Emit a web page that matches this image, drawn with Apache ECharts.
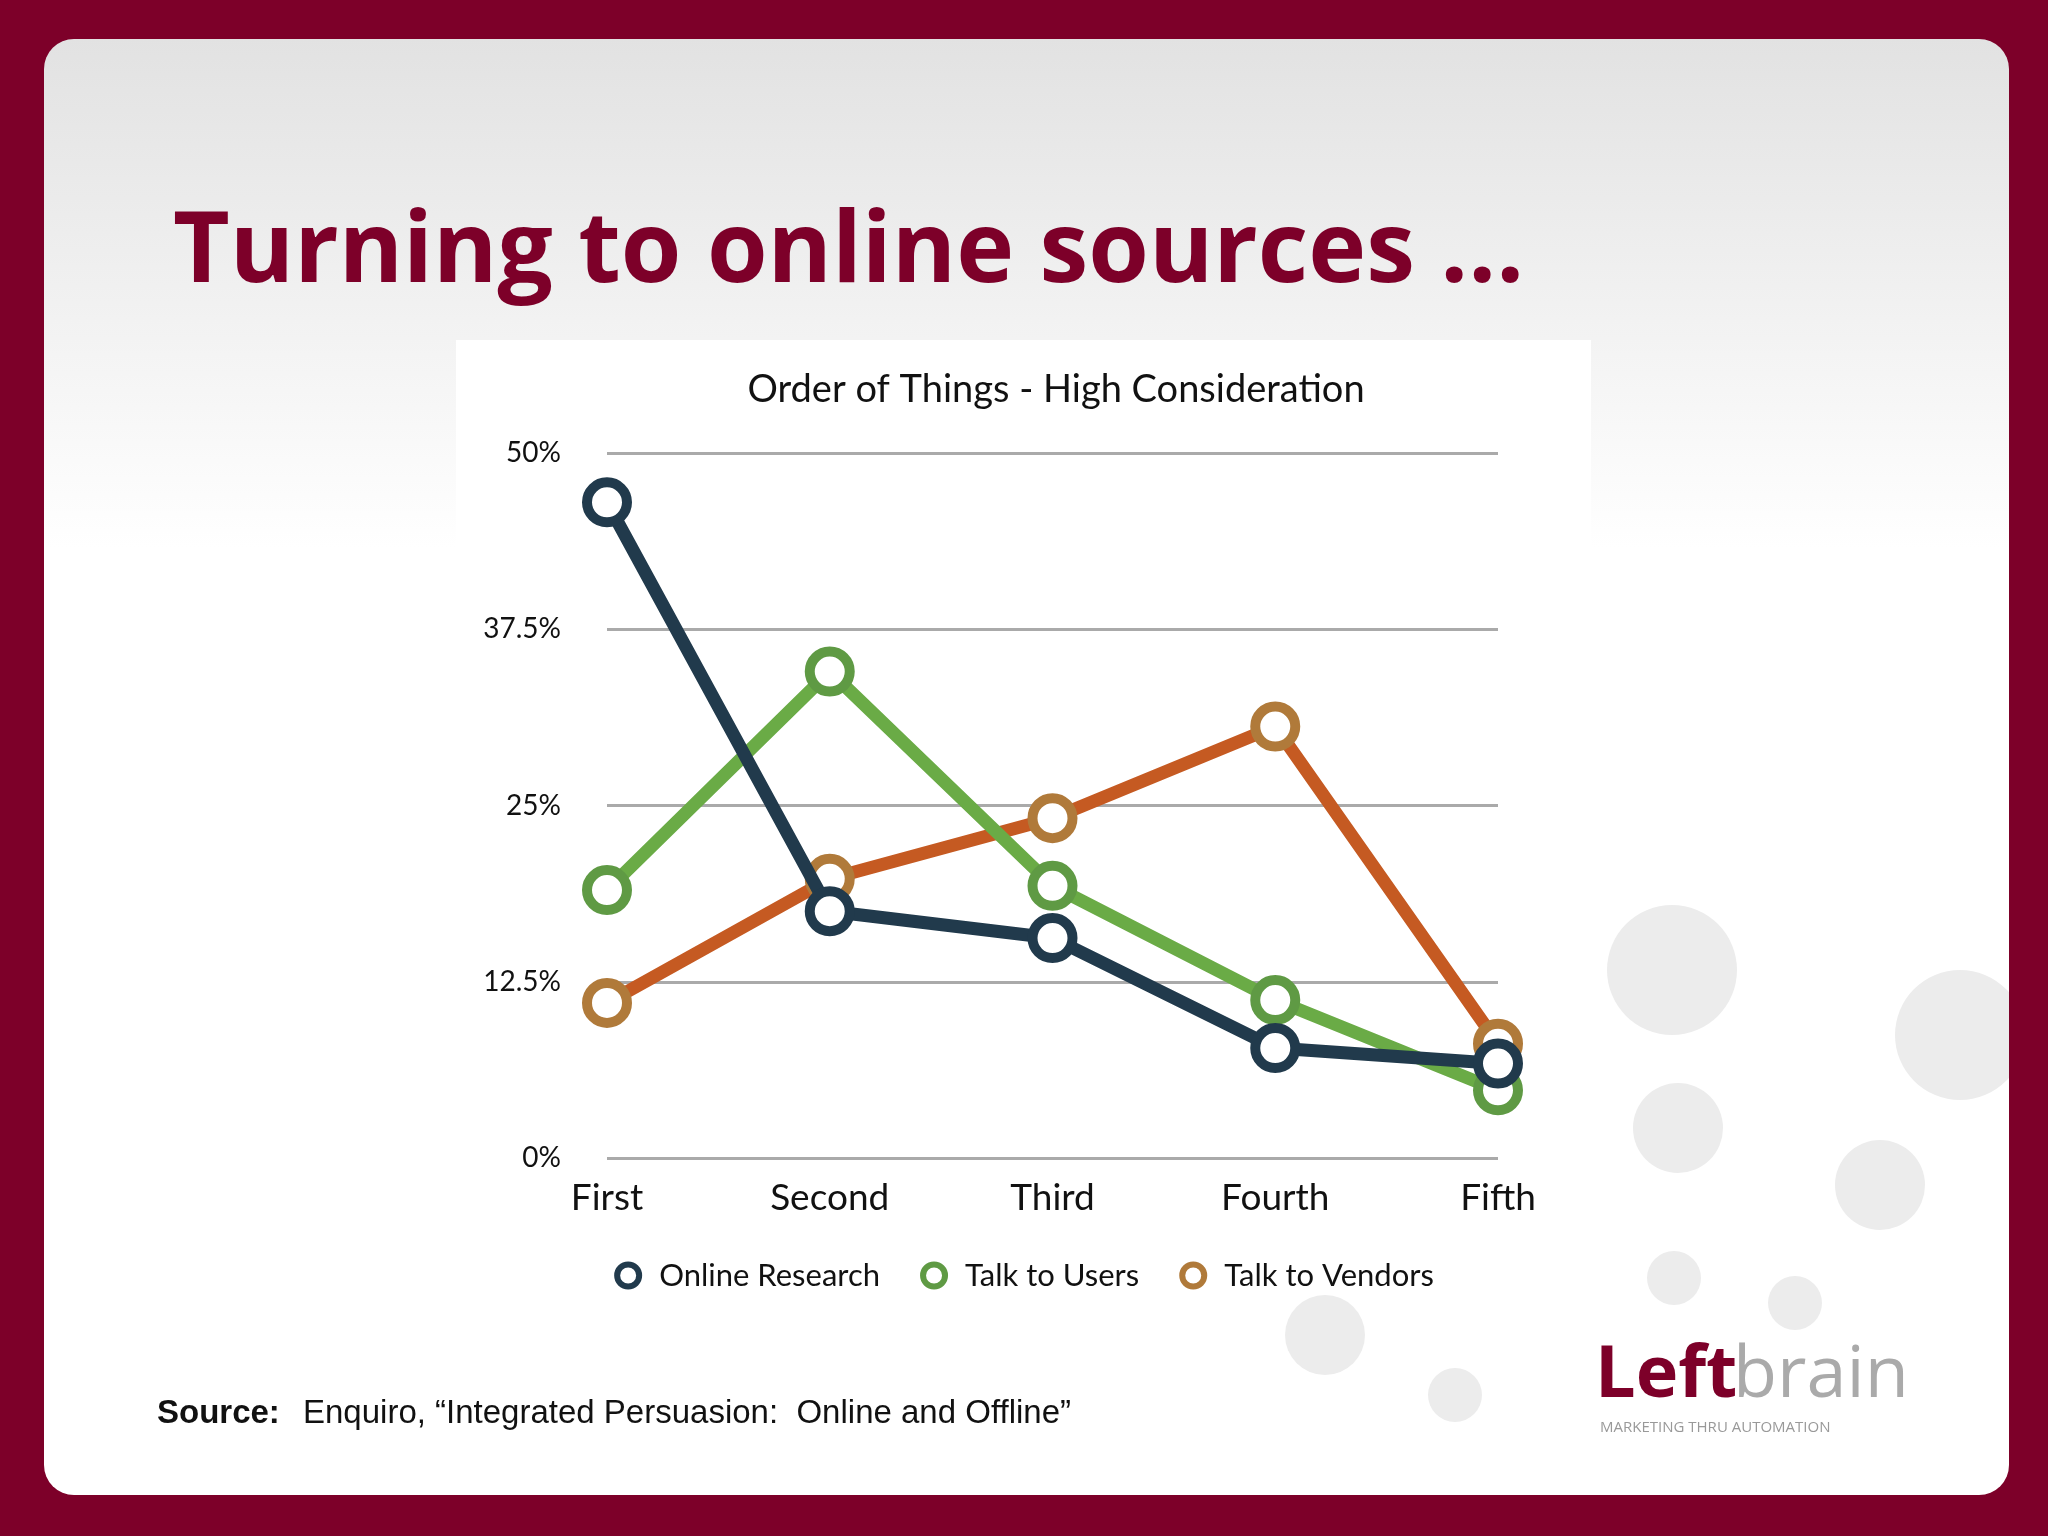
<!DOCTYPE html><html><head><meta charset="utf-8">
<script src="https://cdn.jsdelivr.net/npm/echarts@6/dist/echarts.min.js"></script>
<style>html,body{margin:0;padding:0;background:#7d0029}#c{width:2048px;height:1536px}</style></head><body><div id="c"></div>
<script>
const categories = ['First','Second','Third','Fourth','Fifth'];
const onlineResearch = [46.5, 17.5, 15.6, 7.8, 6.7];
const talkToUsers = [19.0, 34.5, 19.3, 11.2, 4.8];
const talkToVendors = [11.0, 19.8, 24.1, 30.6, 8.1];
const yTicks = {0:'0%',12.5:'12.5%',25:'25%',37.5:'37.5%',50:'50%'};

const chart = echarts.init(document.getElementById('c'));
const font = 'Lato';
function s(name, data, line, border, z){
  return {name, type:'line', data, z, symbol:'circle', symbolSize:40,
    lineStyle:{color:line,width:13}, itemStyle:{color:'#fff',borderColor:border,borderWidth:10}};
}
function li(name,color){return {name,icon:'circle',itemStyle:{color:'#fff',borderColor:color,borderWidth:6}};}
const circles = [[1672,970,65],[1960,1035,65],[1678,1128,45],[1880,1185,45],[1674,1278,27],[1795,1303,27],[1325,1335,40],[1455,1395,27]];
chart.setOption({
  backgroundColor:'#7d0029',
  graphic:[
    {type:'rect',shape:{x:44,y:39,width:1965,height:1456,r:30},z:-10,
     style:{fill:new echarts.graphic.LinearGradient(0,0,0,1,[{offset:0,color:'#e2e2e2'},{offset:0.35,color:'#ffffff'},{offset:1,color:'#ffffff'}])}},
    {type:'group',z:-9,clipPath:{type:'rect',shape:{x:44,y:39,width:1965,height:1456}},
     children:circles.map(c=>({type:'circle',shape:{cx:c[0],cy:c[1],r:c[2]},style:{fill:'#ececec'}}))},
    {type:'rect',shape:{x:456,y:340,width:1135,height:960},z:-8,style:{fill:'#ffffff'}},
    {type:'text',left:173,top:205,style:{text:'Turning to online sources ...',font:'bold 98px "Open Sans"',fill:'#7d0029'}},
    {type:'text',left:157,top:1397,style:{text:'Source:',font:'bold 33px "Liberation Sans"',fill:'#111'}},
    {type:'text',left:303,top:1397,style:{text:'Enquiro, \u201cIntegrated Persuasion:  Online and Offline\u201d',font:'33px "Liberation Sans"',fill:'#111'}},
    {type:'text',left:1595,top:1340,style:{text:'Left',font:'bold 72px "Open Sans"',fill:'#7d0029'}},
    {type:'text',left:1733,top:1340,style:{text:'brain',font:'72px "Open Sans"',fill:'#aaa'}},
    {type:'text',left:1600,top:1420,style:{text:'MARKETING THRU AUTOMATION',font:'15px "Open Sans"',fill:'#999'}}
  ],
  title:{text:'Order of Things - High Consideration',left:1051,textAlign:'center',top:366,
    textStyle:{fontFamily:font,fontWeight:'normal',fontSize:38,color:'#111'}},
  grid:{left:607,right:550,top:453,bottom:378},
  xAxis:{type:'category',data:categories,boundaryGap:false,
    axisLine:{show:false},axisTick:{show:false},
    axisLabel:{fontFamily:font,fontSize:37,color:'#111',margin:22}},
  yAxis:{type:'value',min:0,max:50,interval:12.5,
    axisLabel:{formatter:v=>yTicks[v],fontFamily:font,fontSize:28,color:'#111',margin:46},
    splitLine:{lineStyle:{color:'#aaa',width:3}}},
  legend:{bottom:240,left:'center',itemGap:40,itemWidth:40,itemHeight:22,
    textStyle:{fontFamily:font,fontSize:31,color:'#111',padding:[0,0,0,6]},
    data:[li('Online Research','#213a4c'),li('Talk to Users','#5f9a44'),li('Talk to Vendors','#b07a3a')]},
  series:[
    s('Talk to Vendors',talkToVendors,'#c55a22','#b07a3a',1),
    s('Talk to Users',talkToUsers,'#6aab46','#5f9a44',2),
    s('Online Research',onlineResearch,'#213a4c','#213a4c',3)
  ]
});
</script></body></html>
